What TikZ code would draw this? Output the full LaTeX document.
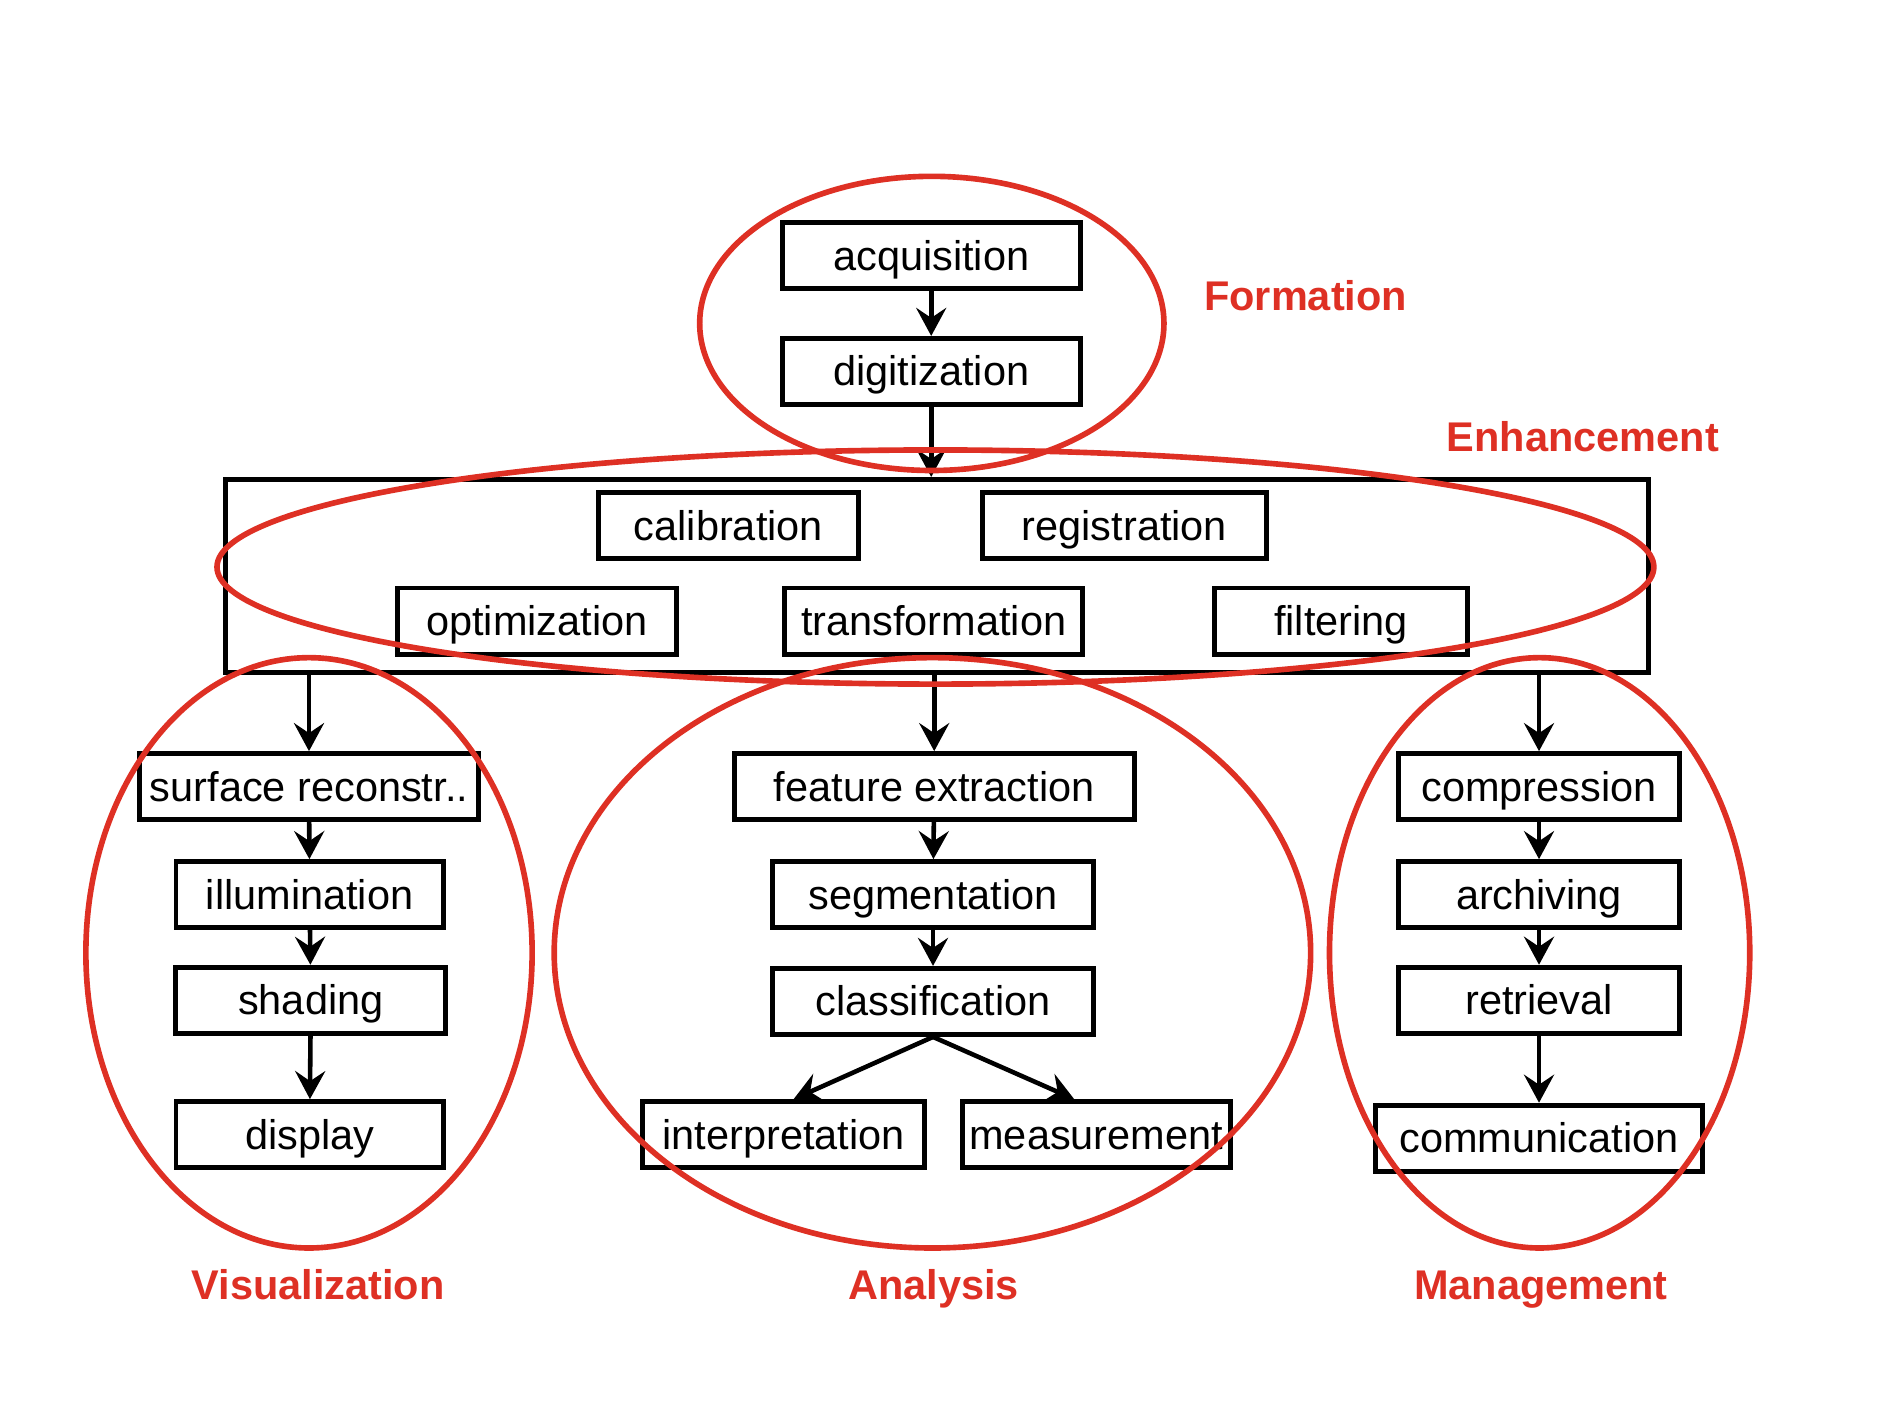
\documentclass[tikz,border=0pt]{standalone}
\usepackage{fontspec}
\setmainfont{Liberation Sans}
\usetikzlibrary{arrows.meta}
\definecolor{markred}{RGB}{222,48,36}

\begin{document}
\begin{tikzpicture}[x=0.012cm, y=-0.012cm,
    box/.style={draw, line width=1.4pt, inner sep=0pt, minimum height=0.66cm,
        text height=9pt, text depth=0.8pt, font=\fontsize{11.8pt}{14pt}\selectfont},
    flow/.style={-{Stealth[length=2.8mm,width=3mm,inset=1mm]}, line width=1.3pt},
    ring/.style={draw=markred, line width=1.6pt},
    stage/.style={text=markred, text height=9pt, text depth=0.8pt,
        font=\fontsize{11.8pt}{14pt}\selectfont\bfseries}]
    \useasboundingbox (0,0) rectangle (1568.3,1166.7);

    % Formation
    \node[box, minimum width=2.98cm] (acq) at (776,213) {acquisition};
    \node[box, minimum width=2.98cm] (dig) at (776,309.5) {digitization};

    % Enhancement
    \node[box, minimum width=14.22cm, minimum height=1.93cm] (enh) at (781,480) {};
    \node[box, minimum width=2.60cm] (cal) at (607,438) {calibration};
    \node[box, minimum width=2.84cm] (reg) at (937,438) {registration};
    \node[box, minimum width=2.78cm] (opt) at (447.5,517.5) {optimization};
    \node[box, minimum width=2.98cm] (trf) at (778,517.5) {transformation};
    \node[box, minimum width=2.52cm] (fil) at (1117.5,517.5) {filtering};

    % Visualization
    \node[box, minimum width=3.38cm] (surf) at (257.5,655.5) {surface reconstr..};
    \node[box, minimum width=2.67cm] (ill) at (258,745.5) {illumination};
    \node[box, minimum width=2.70cm] (shd) at (259,833.5) {shading};
    \node[box, minimum width=2.67cm] (dsp) at (258,945.5) {display};

    % Analysis
    \node[box, minimum width=4.00cm] (feat) at (778.5,655.5) {feature extraction};
    \node[box, minimum width=3.21cm] (seg) at (777.5,745.5) {segmentation};
    \node[box, minimum width=3.21cm] (cls) at (777.5,834.5) {classification};
    \node[box, minimum width=2.82cm] (intp) at (653,945.5) {interpretation};
    \node[box, minimum width=2.68cm] (meas) at (913.5,945.5) {measurement};

    % Management
    \node[box, minimum width=2.80cm] (comp) at (1282.5,655.5) {compression};
    \node[box, minimum width=2.80cm] (arch) at (1282.5,745.5) {archiving};
    \node[box, minimum width=2.80cm] (retr) at (1282.5,833.5) {retrieval};
    \node[box, minimum width=3.26cm] (comm) at (1282.5,948.5) {communication};

    % arrows
    \draw[flow] (acq) -- (dig);
    \draw[flow] (dig) -- (dig.south |- enh.north);
    \draw[flow] (surf.north |- enh.south) -- (surf);
    \draw[flow] (feat.north |- enh.south) -- (feat);
    \draw[flow] (comp.north |- enh.south) -- (comp);
    \draw[flow] (surf) -- (ill);
    \draw[flow] (ill) -- (shd);
    \draw[flow] (shd) -- (dsp);
    \draw[flow] (feat) -- (seg);
    \draw[flow] (seg) -- (cls);
    \draw[flow] (cls.south) -- ([xshift=0.1cm]intp.north);
    \draw[flow] (cls.south) -- ([xshift=-0.22cm]meas.north);
    \draw[flow] (comp) -- (arch);
    \draw[flow] (arch) -- (retr);
    \draw[flow] (retr) -- (comm);

    % stages
    \draw[ring] (776.5,269.5) ellipse [x radius=2.32cm, y radius=1.47cm];
    \draw[ring] (779.5,472.5) ellipse [x radius=7.18cm, y radius=1.17cm];
    \draw[ring] (257.5,794) ellipse [x radius=2.23cm, y radius=2.95cm];
    \draw[ring] (777,794) ellipse [x radius=3.78cm, y radius=2.95cm];
    \draw[ring] (1283,794) ellipse [x radius=2.10cm, y radius=2.95cm];

    \node[stage] (lform) at (1088,247) {Formation};
    \node[stage] (lenh) at (1319,364) {Enhancement};
    \node[stage] (lvis) at (265,1071) {Visualization};
    \node[stage] (lana) at (778,1071) {Analysis};
    \node[stage] (lman) at (1284,1071) {Management};
\end{tikzpicture}
\end{document}
